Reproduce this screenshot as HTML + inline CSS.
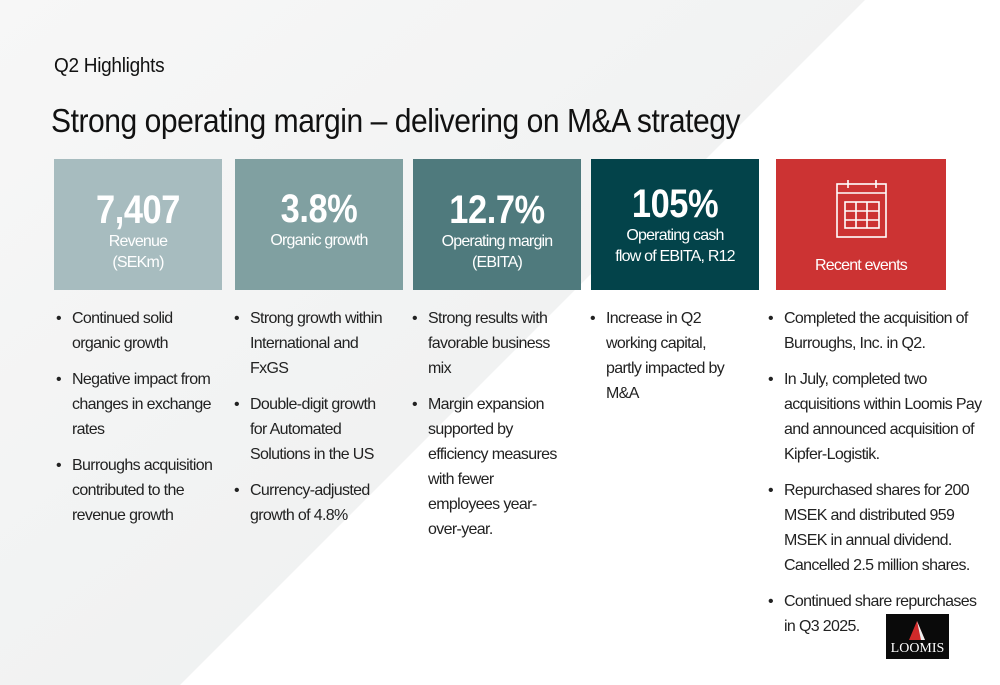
<!DOCTYPE html>
<html><head><meta charset="utf-8"><style>
*{margin:0;padding:0;box-sizing:border-box}
body{width:1000px;height:685px;overflow:hidden;background:#fff;font-family:"Liberation Sans",sans-serif;position:relative;color:#111}
.bg{position:absolute;left:0;top:0}
.abs{position:absolute}
.sub{left:54px;top:55px;font-size:20px;letter-spacing:-0.3px;transform:scaleX(0.95);transform-origin:left}
.title{left:51px;top:102px;font-size:33px;letter-spacing:-0.5px;transform:scaleX(0.91);transform-origin:left;white-space:nowrap}
.card{position:absolute;top:159px;height:131px;width:168px;color:#fff;text-align:center}
.big{font-size:40px;font-weight:bold;line-height:42px;letter-spacing:-0.5px;transform:scaleX(0.86)}
.lab{font-size:16px;line-height:21px;letter-spacing:-0.8px}
ul{position:absolute;list-style:none;font-size:16px;line-height:25px;letter-spacing:-0.65px;color:#222}
li{position:relative;padding-left:16px;margin-bottom:11px}
li:before{content:"•";position:absolute;left:0;top:0}
</style></head><body>
<svg class="bg" width="1000" height="685">
<defs><linearGradient id="g" x1="0" y1="0" x2="1" y2="1"><stop offset="0" stop-color="#f7f7f7"/><stop offset="1" stop-color="#eceeee"/></linearGradient></defs>
<polygon points="0,0 865,0 180,685 0,685" fill="url(#g)"/>
</svg>
<div class="abs sub">Q2 Highlights</div>
<div class="abs title">Strong operating margin – delivering on M&amp;A strategy</div>

<div class="card" style="left:54px;background:#a7bcbf">
<div class="big" style="margin-top:30px">7,407</div><div class="lab">Revenue<br>(SEKm)</div></div>
<div class="card" style="left:235px;background:#80a0a1">
<div class="big" style="margin-top:29px">3.8%</div><div class="lab">Organic growth</div></div>
<div class="card" style="left:413px;background:#4f7a7d">
<div class="big" style="margin-top:30px">12.7%</div><div class="lab">Operating margin<br>(EBITA)</div></div>
<div class="card" style="left:591px;background:#03434a">
<div class="big" style="margin-top:24px">105%</div><div class="lab">Operating cash<br>flow of EBITA, R12</div></div>
<div class="card" style="left:776px;width:170px;background:#cc3333">
<svg width="52" height="60" style="position:absolute;left:60px;top:20px">
<g stroke="#fff" stroke-width="1.6" fill="none"><rect x="1" y="5" width="49" height="53"/><line x1="1" y1="14" x2="50" y2="14"/><line x1="12" y1="1" x2="12" y2="9"/><line x1="40" y1="1" x2="40" y2="9"/><rect x="9" y="23" width="34" height="26"/><line x1="20" y1="23" x2="20" y2="49"/><line x1="31" y1="23" x2="31" y2="49"/><line x1="9" y1="32" x2="43" y2="32"/><line x1="9" y1="41" x2="43" y2="41"/></g></svg>
<div class="lab" style="position:absolute;top:96px;width:100%">Recent events</div></div>

<ul style="left:56px;top:306px;width:158px">
<li>Continued solid organic growth</li><li>Negative impact from changes in exchange rates</li><li>Burroughs acquisition contributed to the revenue growth</li></ul>
<ul style="left:234px;top:306px;width:160px">
<li>Strong growth within International and FxGS</li><li>Double-digit growth for Automated Solutions in the US</li><li>Currency-adjusted growth of 4.8%</li></ul>
<ul style="left:412px;top:306px;width:155px">
<li>Strong results with favorable business mix</li><li>Margin expansion supported by efficiency measures with fewer employees year-over-year.</li></ul>
<ul style="left:590px;top:306px;width:145px">
<li>Increase in Q2 working capital, partly impacted by M&amp;A</li></ul>
<ul style="left:768px;top:306px;width:222px">
<li>Completed the acquisition of Burroughs, Inc. in Q2.</li><li>In July, completed two acquisitions within Loomis Pay and announced acquisition of Kipfer-Logistik.</li><li>Repurchased shares for 200 MSEK and distributed 959 MSEK in annual dividend. Cancelled 2.5 million shares.</li><li>Continued share repurchases in Q3 2025.</li></ul>

<div class="abs" style="left:886px;top:614px;width:63px;height:45px;background:#0a0a0a">
<svg width="63" height="45"><polygon points="31,7 23,26 39,26" fill="#d02a2a"/><polygon points="31,7 39,26 35,26" fill="#eee"/></svg>
<div style="position:absolute;left:0;top:27px;width:63px;text-align:center;color:#fff;font-family:'Liberation Serif',serif;font-size:14px">LOOMIS</div></div>
</body></html>
